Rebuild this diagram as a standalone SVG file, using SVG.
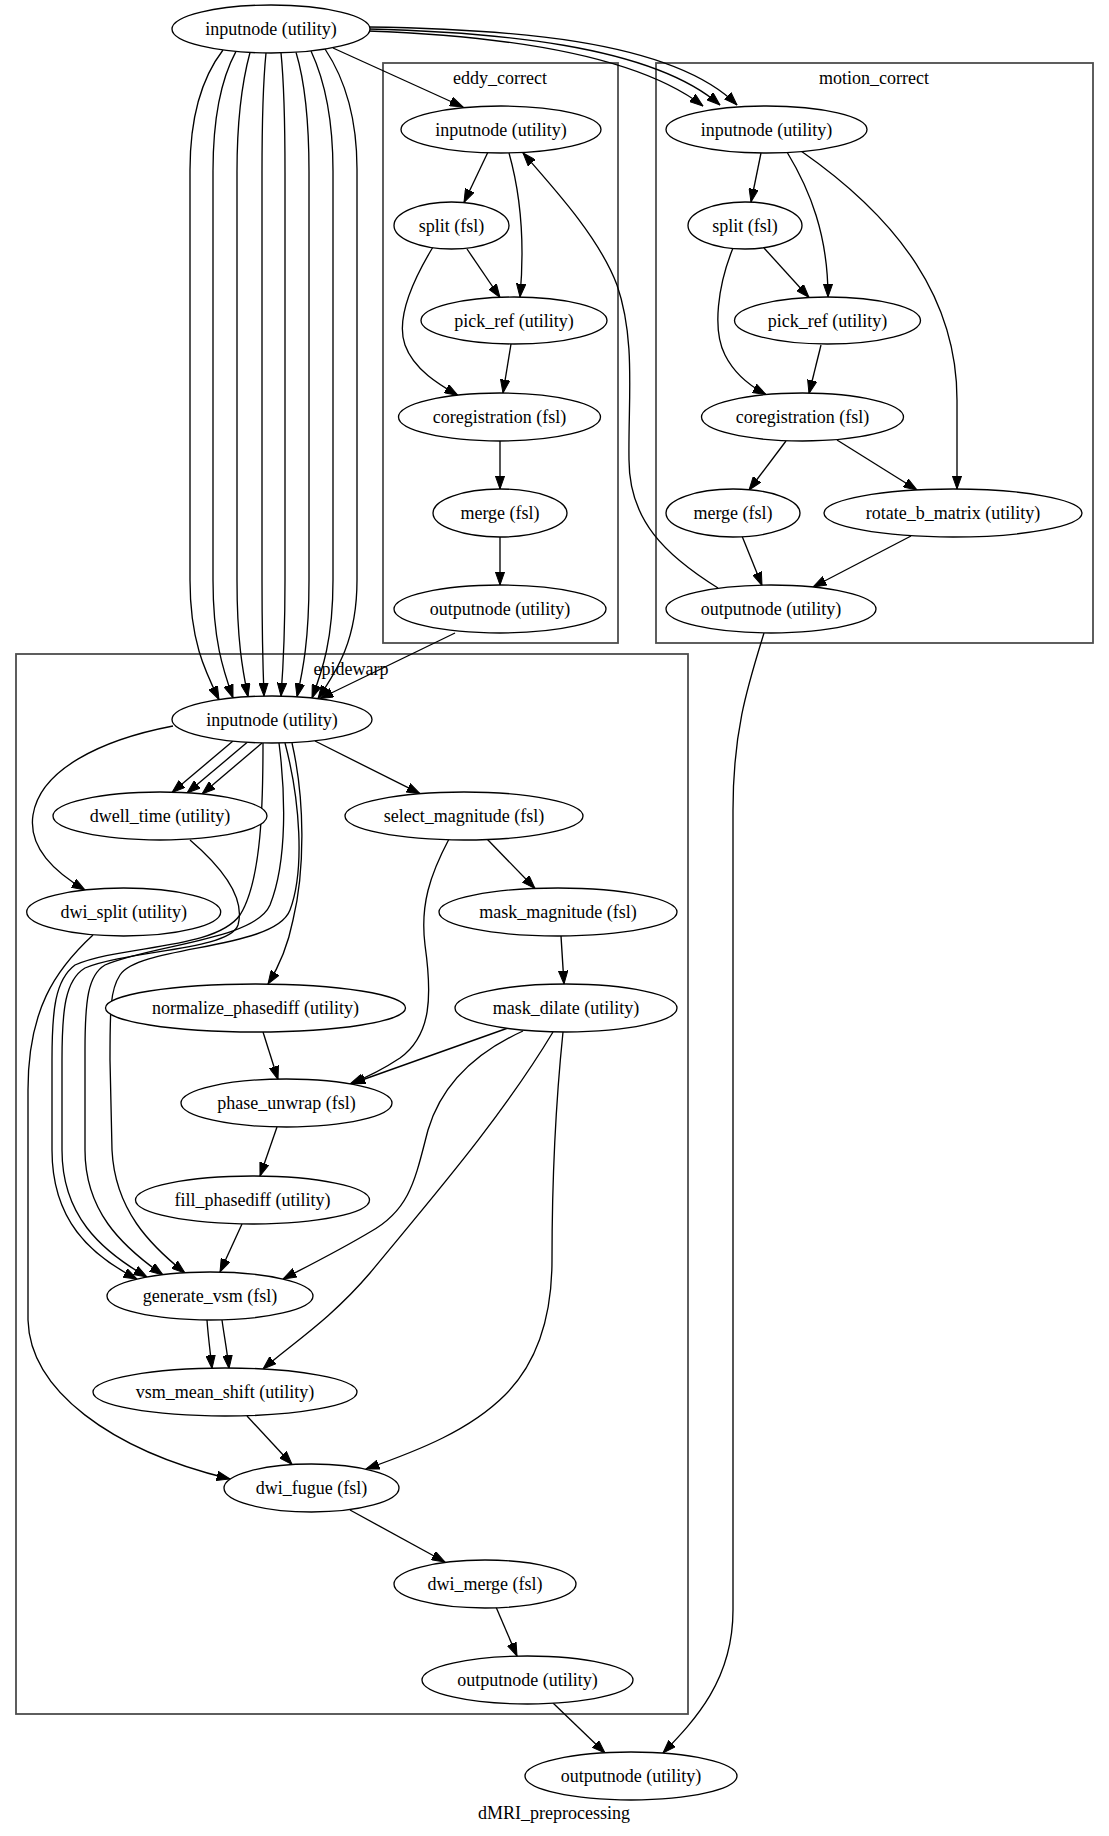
<svg xmlns="http://www.w3.org/2000/svg" width="1109" height="1836" viewBox="0 0 1109 1836">
<style>
.n ellipse{fill:#fff;stroke:#000;stroke-width:1.33}
.n text, .cl text{font-family:"Liberation Serif","Times New Roman",serif;font-size:18px;text-anchor:middle;fill:#000}
.cl rect{fill:none;stroke:#4d4d4d;stroke-width:1.8}
#edges path{fill:none;stroke:#000;stroke-width:1.33;marker-end:url(#ah)}
</style>
<defs>
<marker id="ah" markerUnits="userSpaceOnUse" markerWidth="14" markerHeight="10" viewBox="0 0 14 10" refX="13.3" refY="5" orient="auto">
<path d="M0,0.3 L13.3,5 L0,9.7 z" fill="#000" stroke="#000" stroke-width="1"/>
</marker>
</defs>
<rect width="1109" height="1836" fill="#fff"/>
<g class="cl" id="cluster_eddy"><rect x="383" y="63" width="235" height="580"/><text x="500" y="84">eddy_correct</text></g>
<g class="cl" id="cluster_motion"><rect x="656" y="63" width="437" height="580"/><text x="874" y="84">motion_correct</text></g>
<g class="cl" id="cluster_epi"><rect x="16" y="654" width="672" height="1060"/><text x="351" y="675">epidewarp</text></g>
<g class="cl" id="graph_label"><text x="554" y="1819">dMRI_preprocessing</text></g>

<g id="edges">
<path d="M333,48 L463,107"/>
<path d="M368,31 C480,35 630,50 703,106"/>
<path d="M368,29 C490,32 650,44 720,105"/>
<path d="M368,27 C500,29 670,38 737,105"/>
<path d="M223,50 C200,80 190,120 190,170 L190,580 C190,640 204.5,670 219,699.6"/>
<path d="M236,51.4 C220,81 213,121 213,171 L213,580 C213,640 223,670 233,697.9"/>
<path d="M250,52.5 C242,82 237,122 237,172 L237,580 C237,640 242.5,670 248,696.7"/>
<path d="M266,53 C263,83 262,123 262,173 L262,580 C262,640 263,670 264,696"/>
<path d="M281,52.9 C284,83 285,123 285,173 L285,580 C285,640 283,670 281,696.1"/>
<path d="M296,52.2 C305,82 309,122 309,172 L309,580 C309,640 303,670 297,696.7"/>
<path d="M311,51 C325,81 333,121 333,171 L333,580 C333,640 322.5,670 312,698"/>
<path d="M325,49 C345,79 357,119 357,169 L357,580 C357,640 337.5,670 318,698.6"/>
<path d="M455,633 L320,698.5"/>
<path d="M718,588 C665,555 629,520 629,460 C628,400 636,340 617,285 C600,240 560,195 523,153"/>
<path d="M764,633 C748,685 733,730 733,810 L733,1610 C733,1680 695,1720 663,1753"/>
<path d="M553,1703 L605,1753"/>
<path d="M488,152 L464,202.5"/>
<path d="M509,153 C518,185 526,230 520,297"/>
<path d="M467,249 L500,297.5"/>
<path d="M433,247 C410,285 396,320 405,345 C414,370 440,385 458,395.5"/>
<path d="M511,344 L503,393"/>
<path d="M500,441 L500,489"/>
<path d="M500,537 L500,585"/>
<path d="M761,153 L751,202"/>
<path d="M787,152 C810,190 828,235 828,297"/>
<path d="M801,151 C900,220 957,300 957,400 L957,489"/>
<path d="M764,248 L809,297.5"/>
<path d="M733,248 C718,285 712,330 725,355 C735,375 750,386 766,394.5"/>
<path d="M821,345 L809,393.5"/>
<path d="M786,441 L749,490"/>
<path d="M837,440 L917,490"/>
<path d="M742,536 L762,585.5"/>
<path d="M911,536 L813,587"/>
<path d="M173,726 C100,740 40,770 33,815 C28,848 55,872 85,890"/>
<path d="M233,741 L172,792.5"/>
<path d="M247,742.6 L187,793"/>
<path d="M262,743 L202,794"/>
<path d="M315,741 L420,793.7"/>
<path d="M487,839 L535,888.5"/>
<path d="M449,839 C430,875 420,905 425,945 C432,995 432,1035 400,1058 C385,1068 370,1076 350,1084"/>
<path d="M561,936 L564,984"/>
<path d="M508,1028 L352,1083.5"/>
<path d="M523,1031 C470,1055 440,1090 428,1130 C415,1180 410,1210 370,1232 C340,1250 310,1265 283,1279"/>
<path d="M553,1032 C500,1120 430,1200 370,1273 C330,1320 290,1345 263,1369"/>
<path d="M563,1032 C556,1100 552,1180 552,1260 C552,1330 530,1370 505,1395 C470,1430 420,1450 366,1469"/>
<path d="M263,1032 L278,1079.5"/>
<path d="M277,1127 L260,1176"/>
<path d="M242,1224 L220,1272"/>
<path d="M207,1320 C208,1335 210,1350 212,1368.5"/>
<path d="M222,1320 C224,1335 227,1350 229,1368.5"/>
<path d="M247,1416 L292,1464.5"/>
<path d="M93,935 C55,970 28,1010 28,1090 L28,1320 C30,1390 110,1450 230,1479"/>
<path d="M350,1510 L445,1562"/>
<path d="M496,1607 L517,1656"/>
<path d="M263,743 C263,800 262,880 240,915 C215,950 120,945 75,965 C55,980 52,1010 52,1060 L52,1150 C52,1220 90,1255 137,1279"/>
<path d="M190,840 C225,870 245,900 238,925 C230,950 130,950 85,968 C65,980 62,1010 62,1060 L62,1150 C62,1215 100,1250 147,1277"/>
<path d="M279,743 C285,790 288,860 270,905 C255,940 150,945 105,965 C88,975 85,1000 85,1050 L85,1150 C85,1210 120,1245 163,1275"/>
<path d="M285,743 C300,800 305,870 290,910 C275,950 140,945 120,975 C110,990 110,1010 110,1060 L112,1150 C115,1210 150,1245 185,1273"/>
<path d="M292,743 C305,800 305,870 293,920 C288,945 280,965 268,984"/>
</g>

<g class="n" id="top_inputnode"><ellipse cx="271" cy="29" rx="99" ry="24"/><text x="271" y="35">inputnode (utility)</text></g>
<g class="n" id="eddy_inputnode"><ellipse cx="501" cy="129.5" rx="100" ry="23.5"/><text x="501" y="135.5">inputnode (utility)</text></g>
<g class="n" id="eddy_split"><ellipse cx="451.5" cy="225.5" rx="57.5" ry="23.5"/><text x="451.5" y="231.5">split (fsl)</text></g>
<g class="n" id="eddy_pick_ref"><ellipse cx="514" cy="320.5" rx="93" ry="23.5"/><text x="514" y="326.5">pick_ref (utility)</text></g>
<g class="n" id="eddy_coregistration"><ellipse cx="499.5" cy="417" rx="101" ry="24"/><text x="499.5" y="423">coregistration (fsl)</text></g>
<g class="n" id="eddy_merge"><ellipse cx="500" cy="513" rx="67" ry="24"/><text x="500" y="519">merge (fsl)</text></g>
<g class="n" id="eddy_outputnode"><ellipse cx="500" cy="609" rx="106" ry="24"/><text x="500" y="615">outputnode (utility)</text></g>
<g class="n" id="motion_inputnode"><ellipse cx="766.5" cy="129.5" rx="100.5" ry="23.5"/><text x="766.5" y="135.5">inputnode (utility)</text></g>
<g class="n" id="motion_split"><ellipse cx="745" cy="225.5" rx="57" ry="23.5"/><text x="745" y="231.5">split (fsl)</text></g>
<g class="n" id="motion_pick_ref"><ellipse cx="827.5" cy="320.5" rx="93" ry="23.5"/><text x="827.5" y="326.5">pick_ref (utility)</text></g>
<g class="n" id="motion_coregistration"><ellipse cx="802.5" cy="417" rx="101" ry="24"/><text x="802.5" y="423">coregistration (fsl)</text></g>
<g class="n" id="motion_merge"><ellipse cx="733" cy="513" rx="67" ry="24"/><text x="733" y="519">merge (fsl)</text></g>
<g class="n" id="motion_rotate_b_matrix"><ellipse cx="953" cy="513" rx="129" ry="24"/><text x="953" y="519">rotate_b_matrix (utility)</text></g>
<g class="n" id="motion_outputnode"><ellipse cx="771" cy="609" rx="105" ry="24"/><text x="771" y="615">outputnode (utility)</text></g>
<g class="n" id="epi_inputnode"><ellipse cx="272" cy="719.5" rx="100" ry="23.5"/><text x="272" y="725.5">inputnode (utility)</text></g>
<g class="n" id="epi_dwell_time"><ellipse cx="160" cy="816" rx="107" ry="24"/><text x="160" y="822">dwell_time (utility)</text></g>
<g class="n" id="epi_select_magnitude"><ellipse cx="464" cy="816" rx="119" ry="24"/><text x="464" y="822">select_magnitude (fsl)</text></g>
<g class="n" id="epi_dwi_split"><ellipse cx="123.7" cy="912" rx="97" ry="24"/><text x="123.7" y="918">dwi_split (utility)</text></g>
<g class="n" id="epi_mask_magnitude"><ellipse cx="558" cy="912" rx="119" ry="24"/><text x="558" y="918">mask_magnitude (fsl)</text></g>
<g class="n" id="epi_normalize_phasediff"><ellipse cx="255.5" cy="1008" rx="150" ry="24"/><text x="255.5" y="1014">normalize_phasediff (utility)</text></g>
<g class="n" id="epi_mask_dilate"><ellipse cx="566" cy="1008" rx="111" ry="24"/><text x="566" y="1014">mask_dilate (utility)</text></g>
<g class="n" id="epi_phase_unwrap"><ellipse cx="286.5" cy="1103" rx="105.5" ry="24"/><text x="286.5" y="1109">phase_unwrap (fsl)</text></g>
<g class="n" id="epi_fill_phasediff"><ellipse cx="252.5" cy="1200" rx="117" ry="24"/><text x="252.5" y="1206">fill_phasediff (utility)</text></g>
<g class="n" id="epi_generate_vsm"><ellipse cx="210" cy="1296" rx="103" ry="24"/><text x="210" y="1302">generate_vsm (fsl)</text></g>
<g class="n" id="epi_vsm_mean_shift"><ellipse cx="225" cy="1392" rx="132" ry="24"/><text x="225" y="1398">vsm_mean_shift (utility)</text></g>
<g class="n" id="epi_dwi_fugue"><ellipse cx="311.5" cy="1488" rx="87.5" ry="24"/><text x="311.5" y="1494">dwi_fugue (fsl)</text></g>
<g class="n" id="epi_dwi_merge"><ellipse cx="485" cy="1584" rx="91" ry="24"/><text x="485" y="1590">dwi_merge (fsl)</text></g>
<g class="n" id="epi_outputnode"><ellipse cx="527.5" cy="1680" rx="105.5" ry="24"/><text x="527.5" y="1686">outputnode (utility)</text></g>
<g class="n" id="final_outputnode"><ellipse cx="631" cy="1776" rx="106" ry="24"/><text x="631" y="1782">outputnode (utility)</text></g>
</svg>
